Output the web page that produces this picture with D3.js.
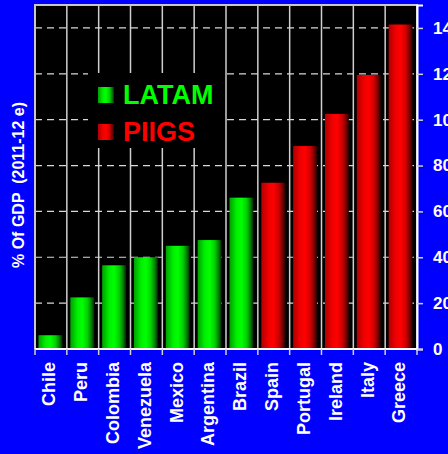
<!DOCTYPE html>
<html>
<head>
<meta charset="utf-8">
<script src="https://cdn.jsdelivr.net/npm/d3@7"></script>
<style>
  html, body { margin: 0; padding: 0; background: #0000ff; overflow: hidden; }
  svg { display: block; font-family: "Liberation Sans", Arial, sans-serif; }
</style>
</head>
<body>
<svg id="chart" width="448" height="454"></svg>
<script>
// Public debt, % of GDP (2011-12 estimates)
const countries = ["Chile", "Peru", "Colombia", "Venezuela", "Mexico", "Argentina",
                   "Brazil", "Spain", "Portugal", "Ireland", "Italy", "Greece"];
const debtRatio = [6, 22.5, 36.5, 40, 45, 47.5, 66, 72.5, 88.5, 102.5, 119.5, 141.5];
const groups = ["LATAM", "LATAM", "LATAM", "LATAM", "LATAM", "LATAM",
                "LATAM", "PIIGS", "PIIGS", "PIIGS", "PIIGS", "PIIGS"];
const legendLabels = ["LATAM", "PIIGS"];
const yTicks = [0, 20, 40, 60, 80, 100, 120, 140];
const yTitle = "% Of GDP  (2011-12 e)";

const svg = d3.select("#chart");
const plot = { left: 35, right: 417, top: 5, bottom: 349 };

const x = d3.scaleBand().domain(countries).range([plot.left, plot.right]).padding(0);
const y = d3.scaleLinear().domain([0, 150]).range([plot.bottom, plot.top]);

// Cylinder-style horizontal gradients for each group
const defs = svg.append("defs");
const gradStops = {
  LATAM: [["0%", "#00a000"], ["30%", "#00f000"], ["50%", "#00ff00"], ["72%", "#00d000"], ["90%", "#007000"], ["100%", "#002a00"]],
  PIIGS: [["0%", "#b00000"], ["30%", "#f00000"], ["50%", "#ff0000"], ["72%", "#d00000"], ["90%", "#700000"], ["100%", "#2a0000"]]
};
const textColor = { LATAM: "#00ff00", PIIGS: "#ff0000" };
Object.entries(gradStops).forEach(([k, stops]) => {
  const g = defs.append("linearGradient").attr("id", "grad-" + k)
    .attr("x1", "0%").attr("x2", "100%").attr("y1", "0%").attr("y2", "0%");
  stops.forEach(([o, c]) => g.append("stop").attr("offset", o).attr("stop-color", c));
});

// Plot background
svg.append("rect")
  .attr("x", plot.left).attr("y", plot.top)
  .attr("width", plot.right - plot.left).attr("height", plot.bottom - plot.top)
  .attr("fill", "#000");

// Vertical separators between categories
const bounds = countries.map(c => x(c)).slice(1);
svg.append("g").selectAll("line").data(bounds).join("line")
  .attr("x1", d => d).attr("x2", d => d)
  .attr("y1", plot.top).attr("y2", plot.bottom)
  .attr("stroke", "#cfcfcf").attr("stroke-width", 1.5);

// Horizontal dashed gridlines
svg.append("g").selectAll("line").data(yTicks.slice(1)).join("line")
  .attr("x1", plot.left).attr("x2", plot.right)
  .attr("y1", d => y(d)).attr("y2", d => y(d))
  .attr("stroke", "#d8d8d8").attr("stroke-width", 1.2)
  .attr("stroke-dasharray", "7,5");

// Legend box (opaque, hides the grid behind it)
const legend = svg.append("g");
legend.append("rect")
  .attr("x", 88).attr("y", 73).attr("width", 135).attr("height", 75)
  .attr("fill", "#000");
legendLabels.forEach((k, i) => {
  const yy = 87 + i * 37;
  legend.append("rect")
    .attr("x", 98).attr("y", yy).attr("width", 16).attr("height", 16)
    .attr("fill", `url(#grad-${k})`);
  legend.append("text")
    .attr("x", 123).attr("y", yy + 17)
    .attr("fill", textColor[k])
    .attr("font-size", 27).attr("font-weight", "bold")
    .text(k);
});

// Bars
const barW = x.bandwidth() * 0.75;
svg.append("g").selectAll("rect").data(countries).join("rect")
  .attr("x", (d) => x(d) + (x.bandwidth() - barW) / 2 - 0.5)
  .attr("y", (d, i) => y(debtRatio[i]))
  .attr("width", barW)
  .attr("height", (d, i) => y(0) - y(debtRatio[i]))
  .attr("fill", (d, i) => `url(#grad-${groups[i]})`);

// Plot frame (left and top)
svg.append("path")
  .attr("d", `M${plot.left},${plot.bottom}V${plot.top}H${plot.right}V${plot.bottom}`)
  .attr("fill", "none").attr("stroke", "#c8c8c8").attr("stroke-width", 2);

// Bottom axis
const xAxis = svg.append("g").attr("transform", `translate(0,${plot.bottom})`);
xAxis.append("line")
  .attr("x1", plot.left).attr("x2", plot.right)
  .attr("stroke", "#fff").attr("stroke-width", 2);
xAxis.selectAll("line.tick").data([plot.left, ...bounds, plot.right]).join("line")
  .attr("class", "tick")
  .attr("x1", d => d).attr("x2", d => d).attr("y1", 0).attr("y2", 6)
  .attr("stroke", "#d0d0d0").attr("stroke-width", 1.5);
xAxis.selectAll("text").data(countries).join("text")
  .attr("transform", d => `translate(${x(d) + x.bandwidth() / 2 - 2},13) rotate(-90)`)
  .attr("text-anchor", "end").attr("dy", "0.35em")
  .attr("fill", "#fff").attr("font-size", 18).attr("font-weight", "bold")
  .text(d => d);

// Right axis
const yAxis = svg.append("g")
  .attr("transform", `translate(${plot.right},0)`)
  .call(d3.axisRight(y).tickValues(yTicks).tickSize(6).tickPadding(10).tickFormat(d3.format("d")));
yAxis.select(".domain").attr("stroke", "#fff").attr("stroke-width", 2);
yAxis.selectAll(".tick line").attr("stroke", "#d0d0d0").attr("stroke-width", 1.5);
yAxis.selectAll(".tick text")
  .attr("fill", "#fff").attr("font-size", 17).attr("font-weight", "bold")
  .attr("font-family", "'Liberation Sans', Arial, sans-serif");

// Y axis title
svg.append("text")
  .attr("transform", "translate(18,185) rotate(-90)")
  .attr("text-anchor", "middle").attr("dy", "0.35em")
  .attr("fill", "#fff").attr("font-size", 16).attr("font-weight", "bold")
  .attr("xml:space", "preserve")
  .style("white-space", "pre")
  .text(yTitle);
</script>
</body>
</html>
